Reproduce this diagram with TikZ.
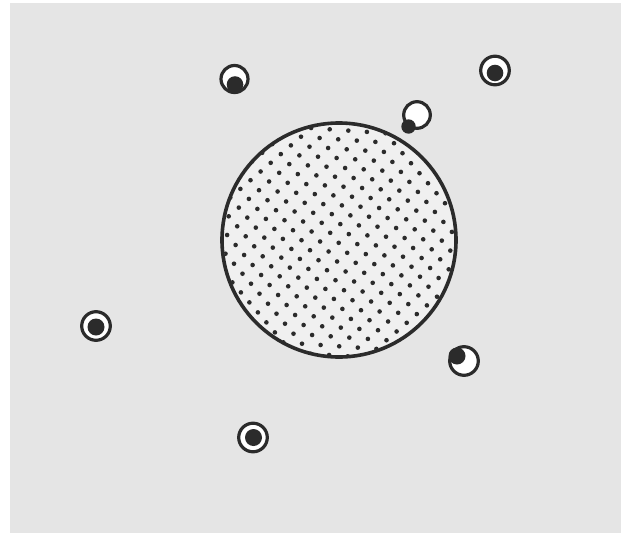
\documentclass[tikz,border=0pt]{standalone}
\usepackage{tikz}
\definecolor{bg}{HTML}{E5E5E5}
\definecolor{inner}{HTML}{F0F0F0}
\definecolor{ink}{HTML}{2B2B2B}
\tikzset{
  ringstyle/.style={draw=ink, line width=3.2pt, fill=white},
  dotstyle/.style={fill=ink},
}
\begin{document}
\begin{tikzpicture}[x=1pt,y=-1pt]
\useasboundingbox (0,0) rectangle (621,533);
\fill[white] (0,0) rectangle (621,533);
\fill[bg] (10,3) rectangle (621,533);
% big dotted circle
\coordinate (C) at (339,240);
\fill[inner] (C) circle (117pt);
\begin{scope}
  \clip (C) circle (115.5pt);
  \foreach \i in {-26,...,14} {
    \foreach \j in {-4,...,27} {
      \fill[ink] ({301+\i*18.6+\j*8.5},{136.7+\i*1.3+\j*10}) circle (2.3pt);
    }
  }
\end{scope}
\draw[draw=ink, line width=3.6pt] (C) circle (117pt);
% rings with inner dots
\draw[ringstyle] (234.5,79) circle (13.5pt);
\fill[dotstyle] (235,84.5) circle (8.3pt);
\draw[ringstyle] (495,70.5) circle (14.3pt);
\fill[dotstyle] (495,73) circle (8.3pt);
\draw[ringstyle] (417,115) circle (13.3pt);
\fill[dotstyle] (408.5,126.5) circle (7.2pt);
\draw[ringstyle] (464,361) circle (14.3pt);
\fill[dotstyle] (457,356) circle (8.5pt);
\draw[ringstyle] (96,326) circle (14.3pt);
\fill[dotstyle] (96,327) circle (8.5pt);
\draw[ringstyle] (253,437.5) circle (14.3pt);
\fill[dotstyle] (253.5,437.5) circle (8.5pt);
\end{tikzpicture}
\end{document}
